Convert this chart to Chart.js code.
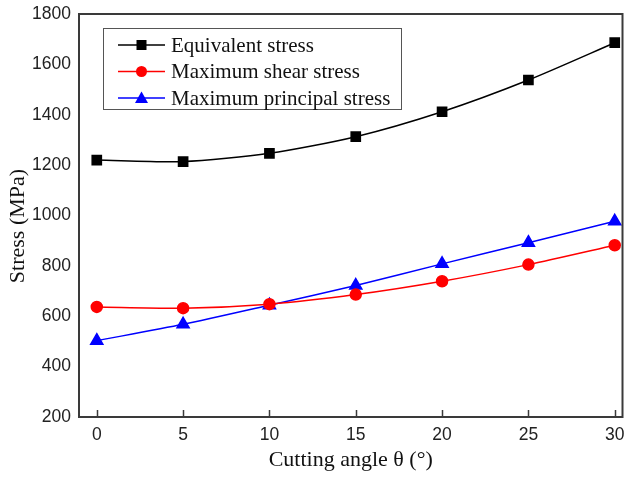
<!DOCTYPE html>
<html>
<head>
<meta charset="utf-8">
<script src="https://cdn.jsdelivr.net/npm/chart.js@4"></script>
<style>
  html, body { margin: 0; padding: 0; background: #fff; overflow: hidden; }
  #wrap { width: 626px; height: 477px; overflow: hidden; }
</style>
</head>
<body>
<div id="wrap"><canvas id="chart" width="631" height="477"></canvas></div>
<script>
// Chart data
const angles = [0, 5, 10, 15, 20, 25, 30];
const equivalentStress = [1220, 1214, 1247, 1313, 1412, 1538, 1686];
const shearStress = [637, 632, 648, 686, 739, 805, 882];
const principalStress = [503, 568, 644, 722, 808, 892, 977];
const yTicks = [200, 400, 600, 800, 1000, 1200, 1400, 1600, 1800];
const xTicks = [0, 5, 10, 15, 20, 25, 30];

const seriesNames = ['Equivalent stress', 'Maximum shear stress', 'Maximum principal stress'];
const yTitle = 'Stress (MPa)';
const xTitle = 'Cutting angle θ (°)';

function toPoints(values) {
    return angles.map((a, i) => ({ x: a, y: values[i] }));
}

const serif = '"Liberation Serif", "Times New Roman", serif';
const sans = '"Liberation Sans", Arial, sans-serif';

// Frame, inward x ticks, y title and in-plot legend
const framePlugin = {
    id: 'frame',
    afterDraw(chart) {
        const ctx = chart.ctx;
        const area = chart.chartArea;
        const xScale = chart.scales.x;
        ctx.save();
        ctx.strokeStyle = '#3a3a3a';
        ctx.lineWidth = 2;
        ctx.strokeRect(area.left, area.top, area.right - area.left, area.bottom - area.top);
        ctx.lineWidth = 1.5;
        xTicks.forEach(t => {
            const px = Math.round(xScale.getPixelForValue(t)) + 0.5;
            ctx.beginPath();
            ctx.moveTo(px, area.bottom);
            ctx.lineTo(px, area.bottom - 7);
            ctx.stroke();
        });

        // y axis title (sits a little below the plot centre in the original)
        ctx.save();
        ctx.translate(18, 226);
        ctx.rotate(-Math.PI / 2);
        ctx.fillStyle = '#111';
        ctx.font = '22px ' + serif;
        ctx.textAlign = 'center';
        ctx.textBaseline = 'middle';
        ctx.fillText(yTitle, 0, 0);
        ctx.restore();

        // legend box
        const bx = 103, by = 28, bw = 298, bh = 81;
        ctx.strokeStyle = '#555';
        ctx.lineWidth = 1;
        ctx.strokeRect(bx + 0.5, by + 0.5, bw, bh);
        chart.data.datasets.forEach((ds, i) => {
            const cy = 45 + i * 26.5;
            ctx.strokeStyle = ds.borderColor;
            ctx.lineWidth = 1.5;
            ctx.beginPath();
            ctx.moveTo(118, cy);
            ctx.lineTo(165, cy);
            ctx.stroke();
            ctx.fillStyle = ds.backgroundColor;
            const mx = 141.5;
            ctx.beginPath();
            if (ds.pointStyle === 'rect') {
                ctx.rect(mx - 5, cy - 5, 10, 10);
            } else if (ds.pointStyle === 'circle') {
                ctx.arc(mx, cy, 5.5, 0, Math.PI * 2);
            } else {
                ctx.moveTo(mx, cy - 6.5);
                ctx.lineTo(mx + 6.5, cy + 5);
                ctx.lineTo(mx - 6.5, cy + 5);
                ctx.closePath();
            }
            ctx.fill();
            ctx.fillStyle = '#111';
            ctx.font = '21px ' + serif;
            ctx.textBaseline = 'middle';
            ctx.textAlign = 'left';
            ctx.fillText(ds.label, 171, cy + 1);
        });
        ctx.restore();
    }
};

function initChart() {
    const ctx = document.getElementById('chart').getContext('2d');
    new Chart(ctx, {
        type: 'line',
        data: {
            datasets: [
                {
                    label: seriesNames[0],
                    data: toPoints(equivalentStress),
                    borderColor: '#000000',
                    backgroundColor: '#000000',
                    pointStyle: 'rect',
                    pointRadius: 6.5,
                    borderWidth: 1.5,
                    tension: 0.25
                },
                {
                    label: seriesNames[1],
                    data: toPoints(shearStress),
                    borderColor: '#ff0000',
                    backgroundColor: '#ff0000',
                    pointStyle: 'circle',
                    pointRadius: 5.5,
                    borderWidth: 1.5,
                    tension: 0.25
                },
                {
                    label: seriesNames[2],
                    data: toPoints(principalStress),
                    borderColor: '#0000ff',
                    backgroundColor: '#0000ff',
                    pointStyle: 'triangle',
                    pointRadius: 7,
                    borderWidth: 1.5,
                    tension: 0.25
                }
            ]
        },
        options: {
            responsive: false,
            animation: false,
            layout: { padding: { top: 14, right: 4, left: 0, bottom: 0 } },
            plugins: {
                legend: { display: false },
                tooltip: { enabled: false }
            },
            scales: {
                x: {
                    type: 'linear',
                    min: -1.03,
                    max: 30.45,
                    afterBuildTicks(scale) {
                        scale.ticks = xTicks.map(v => ({ value: v }));
                    },
                    afterFit(scale) {
                        scale.height = 60;
                        scale.paddingLeft = 0;
                        scale.paddingRight = 0;
                    },
                    grid: { display: false, drawTicks: false },
                    border: { display: false },
                    ticks: {
                        color: '#222',
                        padding: 8,
                        callback: v => String(v),
                        font: { family: sans, size: 17.5 }
                    },
                    title: {
                        display: true,
                        text: xTitle,
                        color: '#111',
                        padding: { top: 1 },
                        font: { family: serif, size: 22 }
                    }
                },
                y: {
                    min: 200,
                    max: 1800,
                    afterBuildTicks(scale) {
                        scale.ticks = yTicks.map(v => ({ value: v }));
                    },
                    afterFit(scale) {
                        scale.width = 79;
                        scale.paddingTop = 0;
                        scale.paddingBottom = 0;
                    },
                    grid: { display: false, drawTicks: false },
                    border: { display: false },
                    ticks: {
                        color: '#222',
                        padding: 8,
                        callback: v => String(v),
                        font: { family: sans, size: 17.5 }
                    },
                    title: { display: false }
                }
            }
        },
        plugins: [framePlugin]
    });
}

document.addEventListener('DOMContentLoaded', initChart);
</script>
</body>
</html>
